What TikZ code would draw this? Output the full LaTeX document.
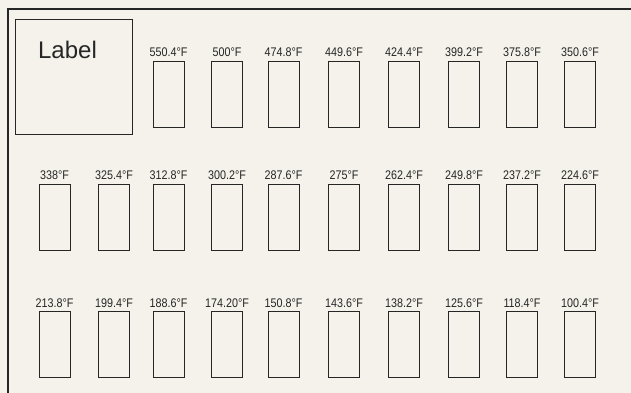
\documentclass[tikz,border=0pt]{standalone}
\usepackage{fontspec}
\setsansfont{Liberation Sans}
\usepackage{tikz}
\usetikzlibrary{positioning}
\definecolor{paper}{HTML}{F4F2EA}
\definecolor{ink}{HTML}{262626}
\tikzset{
  tempfont/.style={font=\sffamily\fontsize{12.5}{14}\selectfont},
  slot/.style={draw=ink, line width=0.8pt, minimum width=31pt, minimum height=66pt, inner sep=0pt},
  templbl/.style={tempfont, text=ink, inner sep=0pt, xscale=0.86, transform shape},
}

\begin{document}
\begin{tikzpicture}[x=1pt, y=-1pt,
    frame/.style={draw=ink, line width=1.1pt},
    lblbox/.style={draw=ink, line width=0.9pt, minimum width=117pt, minimum height=115pt, inner sep=0pt}
]
  \fill[paper] (0,0) rectangle (631,393);
  \useasboundingbox (0,0) rectangle (631,393);

  % page frame (only top and left edges show)
  \draw[frame] (631,9) -- (8,9) -- (8,393);

  % label field
  \node[lblbox] (labelbox) at (73.5,76.5) {};
  \node[font=\sffamily\fontsize{24}{28}\selectfont, text=ink, inner sep=0pt,
        below=22pt of labelbox.north, xshift=-6pt] (labeltext) {Label};

  % row 1 (columns 3 to 10)
  \foreach \i/\x/\t in {3/168.5/550.4, 4/227/500, 5/283.5/474.8, 6/344/449.6,
                        7/404/424.4, 8/464/399.2, 9/522/375.8, 10/580/350.6} {
    \node[slot] (r1c\i) at (\x,94) {};
    \node[templbl, above=4pt of r1c\i] (t1c\i) {\t°F};
  }

  % row 2
  \foreach \i/\x/\t in {1/54.5/338, 2/114/325.4, 3/168.5/312.8, 4/227/300.2, 5/283.5/287.6,
                        6/344/275, 7/404/262.4, 8/464/249.8, 9/522/237.2, 10/580/224.6} {
    \node[slot] (r2c\i) at (\x,217) {};
    \node[templbl, above=4pt of r2c\i] (t2c\i) {\t°F};
  }

  % row 3
  \foreach \i/\x/\t in {1/54.5/213.8, 2/114/199.4, 3/168.5/188.6, 4/227/174.20, 5/283.5/150.8,
                        6/344/143.6, 7/404/138.2, 8/464/125.6, 9/522/118.4, 10/580/100.4} {
    \node[slot] (r3c\i) at (\x,344.5) {};
    \node[templbl, above=3.5pt of r3c\i] (t3c\i) {\t°F};
  }
\end{tikzpicture}
\end{document}
